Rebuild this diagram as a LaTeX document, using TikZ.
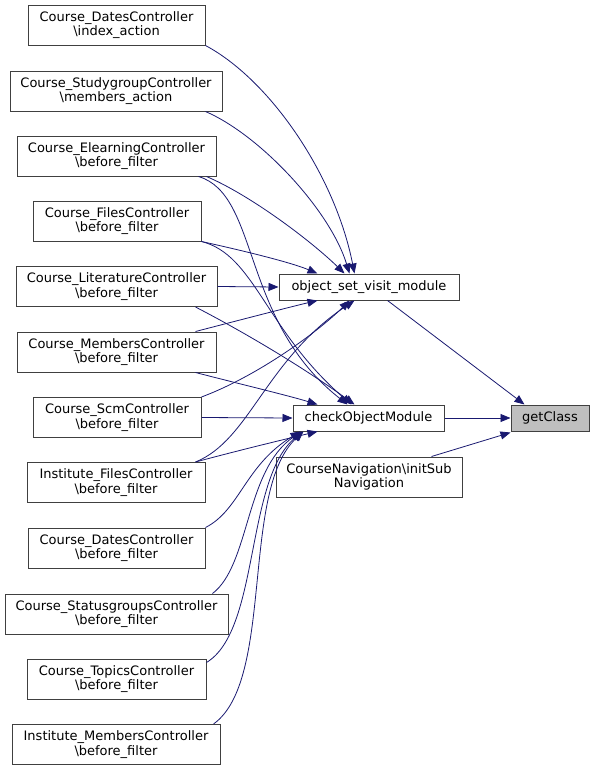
\documentclass[tikz,border=0pt]{standalone}
\usepackage{fontspec}
\setmainfont{DejaVu Sans}
\usetikzlibrary{arrows.meta}
\definecolor{edgecol}{HTML}{191970}
\definecolor{boxborder}{HTML}{404040}
\definecolor{hilite}{HTML}{BFBFBF}
\begin{document}
\begin{tikzpicture}[x=1pt,y=-1pt,
  box/.style={draw=boxborder, line width=1pt, fill=white, inner sep=0pt, align=center,
    font=\fontsize{13}{14.5}\selectfont, minimum height=40pt},
  sbox/.style={box, minimum height=26pt},
  call/.style={draw=edgecol, line width=0.8pt, -{Triangle[length=10pt,width=8pt]}}]
\useasboundingbox (0,0) rectangle (595,771);

\node[box, minimum width=177pt] (n1) at (116.5,25) {Course\_DatesController\\\textbackslash index\_action};
\node[box, minimum width=212pt] (n2) at (116,91) {Course\_StudygroupController\\\textbackslash members\_action};
\node[box, minimum width=199pt] (n3) at (116.5,156) {Course\_ElearningController\\\textbackslash before\_filter};
\node[box, minimum width=168pt] (n4) at (117,221) {Course\_FilesController\\\textbackslash before\_filter};
\node[box, minimum width=201pt] (n5) at (116.5,286.5) {Course\_LiteratureController\\\textbackslash before\_filter};
\node[box, minimum width=199pt] (n6) at (116.5,352) {Course\_MembersController\\\textbackslash before\_filter};
\node[box, minimum width=168pt] (n7) at (117,417.5) {Course\_ScmController\\\textbackslash before\_filter};
\node[box, minimum width=178pt] (n8) at (116,482.5) {Institute\_FilesController\\\textbackslash before\_filter};
\node[box, minimum width=177pt] (n9) at (116.5,548) {Course\_DatesController\\\textbackslash before\_filter};
\node[box, minimum width=223pt] (n10) at (116.5,614) {Course\_StatusgroupsController\\\textbackslash before\_filter};
\node[box, minimum width=179pt] (n11) at (116.5,679) {Course\_TopicsController\\\textbackslash before\_filter};
\node[box, minimum width=208pt] (n12) at (116,744.5) {Institute\_MembersController\\\textbackslash before\_filter};

\node[sbox, minimum width=180pt] (osvm) at (369,287) {object\_set\_visit\_module};
\node[sbox, minimum width=151pt] (check) at (368.5,418) {checkObjectModule};
\node[box, minimum width=186pt] (nav) at (369,477) {CourseNavigation\textbackslash initSub\\Navigation};
\node[sbox, minimum width=78pt, fill=hilite] (getClass) at (550,418) {getClass};

% callers of object_set_visit_module
\draw[call] (n1.south east) .. controls (270,80) and (335,175) .. ([xshift=76pt]osvm.north west);
\draw[call] ([xshift=-17pt]n2.south east) .. controls (260,135) and (330,210) .. ([xshift=71pt]osvm.north west);
\draw[call] ([xshift=-10pt]n3.south east) .. controls (250,195) and (310,240) .. ([xshift=66pt]osvm.north west);
\draw[call] (n4.south east) .. controls (240,250) and (290,262) .. ([xshift=39pt]osvm.north west);
\draw[call] (n5.east) -- (osvm.west);
\draw[call] ([xshift=-21pt]n6.north east) .. controls (240,320) and (290,307) .. ([xshift=39pt]osvm.south west);
\draw[call] (n7.north east) .. controls (260,375) and (320,330) .. ([xshift=71pt]osvm.south west);
\draw[call] ([xshift=-10pt]n8.north east) .. controls (250,440) and (265,360) .. ([xshift=76pt]osvm.south west);

% callers of checkObjectModule
\draw[call] ([xshift=-18pt]n3.south east) .. controls (260,195) and (240,320) .. ([xshift=55pt]check.north west);
\draw[call] (n4.south east) .. controls (255,255) and (265,330) .. ([xshift=59pt]check.north west);
\draw[call] ([xshift=-22pt]n5.south east) .. controls (240,330) and (300,365) .. ([xshift=62pt]check.north west);
\draw[call] ([xshift=-21pt]n6.south east) .. controls (240,384) and (290,396) .. ([xshift=25pt]check.north west);
\draw[call] (n7.east) -- (check.west);
\draw[call] ([xshift=-10pt]n8.north east) .. controls (240,450) and (290,438) .. ([xshift=25pt]check.south west);
\draw[call] (n9.north east) .. controls (240,510) and (245,465) .. ([xshift=8pt]check.south west);
\draw[call] ([xshift=-16pt]n10.north east) .. controls (250,565) and (245,470) .. ([xshift=9pt]check.south west);
\draw[call] ([yshift=-4pt]n11.north east) .. controls (260,630) and (245,480) .. ([xshift=10pt]check.south west);
\draw[call] ([xshift=-7pt]n12.north east) .. controls (275,680) and (240,490) .. ([xshift=11pt]check.south west);

% callers of getClass
\draw[call] ([xshift=109pt]osvm.south west) -- ([xshift=14pt]getClass.north west);
\draw[call] (check.east) -- (getClass.west);
\draw[call] ([xshift=156pt]nav.north west) -- ([yshift=-1pt]getClass.south west);
\end{tikzpicture}
\end{document}
